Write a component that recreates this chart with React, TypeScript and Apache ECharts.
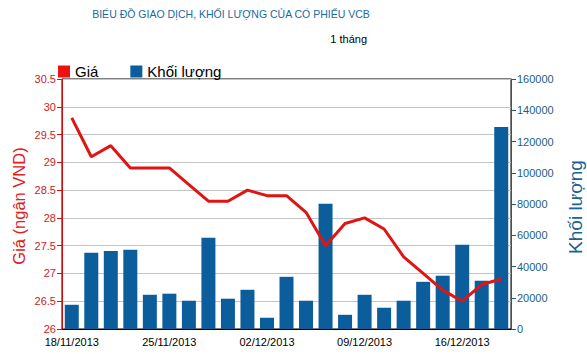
import React, { useEffect, useRef } from "react";
import * as echarts from "echarts";

const dates = [
  "18/11/2013", "19/11/2013", "20/11/2013", "21/11/2013", "22/11/2013",
  "25/11/2013", "26/11/2013", "27/11/2013", "28/11/2013", "29/11/2013",
  "02/12/2013", "03/12/2013", "04/12/2013", "05/12/2013", "06/12/2013",
  "09/12/2013", "10/12/2013", "11/12/2013", "12/12/2013", "13/12/2013",
  "16/12/2013", "17/12/2013", "18/12/2013",
];
const prices = [
  29.8, 29.1, 29.3, 28.9, 28.9,
  28.9, 28.6, 28.3, 28.3, 28.5,
  28.4, 28.4, 28.1, 27.5, 27.9,
  28.0, 27.8, 27.3, 27.0, 26.7,
  26.5, 26.8, 26.9,
];
const volumes = [
  15500, 48800, 50000, 50700, 21900,
  22600, 18100, 58400, 19400, 25100,
  7200, 33400, 18100, 80100, 9100,
  21900, 13600, 18100, 30200, 34100,
  53900, 30900, 129300,
];

const FONT = "Liberation Sans, Arial, sans-serif";

export default function App() {
  const ref = useRef<HTMLDivElement>(null);
  useEffect(() => {
    if (!ref.current) return;
    const chart = echarts.init(ref.current, null, { renderer: "svg" });
    chart.setOption({
      animation: false,
      backgroundColor: "#ffffff",
      textStyle: { fontFamily: FONT },
      grid: {
        left: 62, right: 76, top: 79, bottom: 25,
        show: true, borderColor: "#000000", borderWidth: 1,
      },
      legend: {
        left: 53, top: 59, icon: "rect", itemWidth: 12, itemHeight: 12,
        itemGap: 32,
        textStyle: { fontSize: 15, color: "#000000", fontFamily: FONT },
        data: ["Giá", "Khối lượng"],
      },
      graphic: [
        {
          type: "text", x: 231, y: 14,
          style: {
            text: "BIỂU ĐỒ GIAO DỊCH, KHỐI LƯỢNG CỦA CỔ PHIẾU VCB",
            fill: "#1a6a9e", fontSize: 10.5, fontFamily: FONT,
            align: "center", verticalAlign: "middle",
          },
        },
        {
          type: "text", x: 367, y: 39,
          style: {
            text: "1 tháng", fill: "#000000", fontSize: 11, fontFamily: FONT,
            align: "right", verticalAlign: "middle",
          },
        },
        {
          type: "text", x: 19, y: 206, rotation: Math.PI / 2,
          style: {
            text: "Giá (ngân VND)", fill: "#dd2020", fontSize: 16.5, fontFamily: FONT,
            align: "center", verticalAlign: "middle",
          },
        },
        {
          type: "text", x: 575, y: 207, rotation: Math.PI / 2,
          style: {
            text: "Khối lượng", fill: "#1a6494", fontSize: 19, fontFamily: FONT,
            align: "center", verticalAlign: "middle",
          },
        },
      ],
      xAxis: {
        type: "category",
        data: dates,
        boundaryGap: true,
        axisLine: { lineStyle: { color: "#000000", width: 1 } },
        axisTick: { alignWithLabel: true, interval: 4, length: 5, lineStyle: { color: "#000000" } },
        axisLabel: { interval: 4, color: "#000000", fontSize: 11, margin: 7, fontFamily: FONT },
        splitLine: { show: false },
      },
      yAxis: [
        {
          type: "value", min: 26, max: 30.5, interval: 0.5, position: "left",
          axisLine: { show: true, lineStyle: { color: "#cc1111", width: 1 } },
          axisTick: { show: true, length: 5, lineStyle: { color: "#cc1111" } },
          axisLabel: { color: "#cc2222", fontSize: 11, margin: 6, fontFamily: FONT },
          splitLine: { show: true, lineStyle: { color: "#c4c4c4", width: 1 } },
        },
        {
          type: "value", min: 0, max: 160000, interval: 20000, position: "right",
          axisLine: { show: true, lineStyle: { color: "#1a5f80", width: 1 } },
          axisTick: { show: true, length: 5, lineStyle: { color: "#1a5f80" } },
          axisLabel: {
            color: "#1a5f80", fontSize: 11, margin: 6, fontFamily: FONT,
            formatter: (v: number) => String(v),
          },
          splitLine: { show: false },
        },
      ],
      series: [
        {
          name: "Khối lượng", type: "bar", yAxisIndex: 1, data: volumes,
          barWidth: 14, itemStyle: { color: "#0b5e9b" },
        },
        {
          name: "Giá", type: "line", yAxisIndex: 0, data: prices,
          showSymbol: false, symbol: "none",
          lineStyle: { color: "#e01414", width: 3 },
          itemStyle: { color: "#ee1111" },
        },
      ],
    });
    return () => chart.dispose();
  }, []);
  return (
    <div
      ref={ref}
      style={{ position: "fixed", left: 0, top: 0, width: 587, height: 354 }}
    />
  );
}
